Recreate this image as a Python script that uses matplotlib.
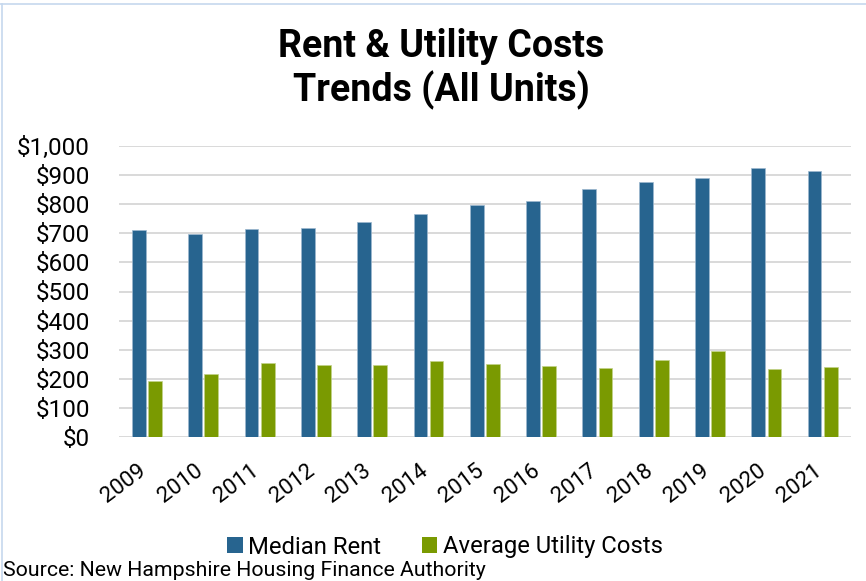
import matplotlib
matplotlib.use("Agg")
import matplotlib.pyplot as plt
import matplotlib.transforms as mtransforms
from matplotlib.patches import Patch
from matplotlib.lines import Line2D
import numpy as np

years = ["2009", "2010", "2011", "2012", "2013", "2014", "2015",
         "2016", "2017", "2018", "2019", "2020", "2021"]
median_rent = [711, 699, 716, 717, 739, 768, 796, 811, 851, 876, 891, 924, 915]
utility_costs = [194, 215, 256, 246, 249, 260, 252, 245, 236, 265, 294, 235, 242]
ytick_values = [0, 100, 200, 300, 400, 500, 600, 700, 800, 900, 1000]
ytick_labels = ["$0", "$100", "$200", "$300", "$400", "$500", "$600",
                "$700", "$800", "$900", "$1,000"]
series_names = ["Median Rent", "Average Utility Costs"]
title_lines = ["Rent & Utility Costs", "Trends (All Units)"]
source_text = "Source: New Hampshire Housing Finance Authority"

plt.rcParams["font.family"] = ["Roboto", "DejaVu Sans"]

W, H = 866, 581
fig = plt.figure(figsize=(W / 100, H / 100), dpi=100)
fig.patch.set_facecolor("white")

rent_color = "#27648F"
util_color = "#7A9A01"
grid_color = "#D9D9D9"

ax = fig.add_axes([119 / W, (H - 437) / H, 732 / W, 291 / H])
x = np.arange(len(years))
bw = 0.245
ax.bar(x - 0.147, median_rent, width=bw, color=rent_color,
       edgecolor="#9DB8CF", linewidth=0.5, zorder=3)
ax.bar(x + 0.14, utility_costs, width=bw, color=util_color,
       edgecolor="#C2D28A", linewidth=0.5, zorder=3)

ax.set_xlim(-0.5, len(years) - 0.5)
ax.set_ylim(0, 1000)
ax.set_yticks(ytick_values)
ax.set_yticklabels(ytick_labels, fontsize=17.5, color="black")
ax.set_xticks(x)
ax.set_xticklabels(years, fontsize=16, rotation=37, ha="right", va="baseline",
                   rotation_mode="anchor")
offset = mtransforms.ScaledTranslation(1 / 100, 0, fig.dpi_scale_trans)
for lbl in ax.get_xticklabels():
    lbl.set_transform(lbl.get_transform() + offset)
ax.tick_params(axis="y", length=0, pad=21)
ax.tick_params(axis="x", length=0, pad=25.6)
for s in ax.spines.values():
    s.set_visible(False)
ax.yaxis.grid(True, color=grid_color, linewidth=1.4, zorder=0)
ax.set_axisbelow(True)

# title
fig.text(441 / W, (H - 57) / H, title_lines[0], ha="center", va="baseline",
         fontsize=27, fontweight="bold", color="black")
fig.text(441 / W, (H - 101) / H, title_lines[1], ha="center", va="baseline",
         fontsize=27, fontweight="bold", color="black")

# legend
handles = [Patch(facecolor=rent_color, edgecolor="none"),
           Patch(facecolor=util_color, edgecolor="none")]
fig.legend(handles, series_names, loc="center", ncol=2, frameon=False,
           bbox_to_anchor=(445 / W, (H - 547) / H), fontsize=17.2,
           handlelength=0.65, handleheight=0.65, handletextpad=0.22,
           columnspacing=1.7, borderpad=0, borderaxespad=0)

# source
fig.text(3 / W, 5 / H, source_text, ha="left", va="baseline",
         fontsize=15.3, color="black")

# chart frame
frame_color = "#C6D8EE"
fig.add_artist(Line2D([0, 1], [(H - 3.5) / H, (H - 3.5) / H],
                      transform=fig.transFigure, color=frame_color, linewidth=1.2))
fig.add_artist(Line2D([1.5 / W, 1.5 / W], [0, (H - 3.5) / H],
                      transform=fig.transFigure, color=frame_color, linewidth=1.2))

fig.savefig("out.png", dpi=100, facecolor="white")
